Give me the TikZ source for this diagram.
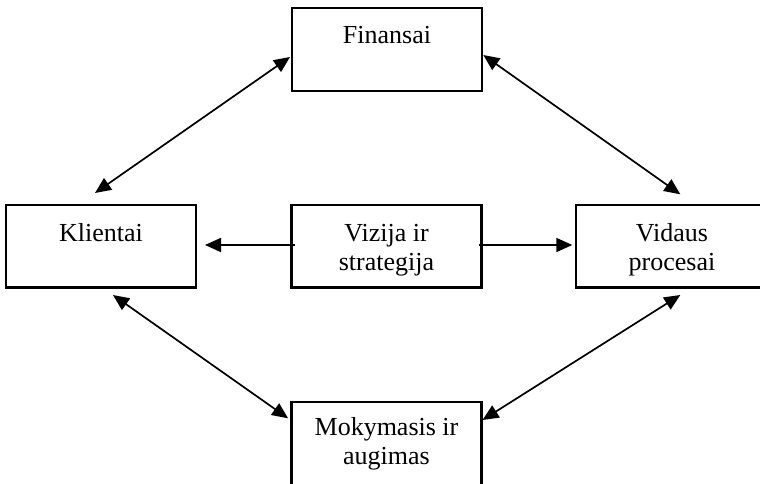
\documentclass[tikz,border=0pt]{standalone}
\usepackage{fontspec}
\setmainfont{Liberation Serif}
\usetikzlibrary{arrows.meta}
\begin{document}
\begin{tikzpicture}[x=1pt,y=-1pt,
  box/.style={draw=black,line width=2.1pt,minimum width=190pt,minimum height=82.5pt,inner sep=0pt,outer sep=0pt},
  lbl/.style={anchor=north,inner sep=0pt,align=center,font=\fontsize{26}{29}\selectfont},
  link/.style={line width=1.7pt,{Triangle[length=16pt,width=14pt]}-{Triangle[length=16pt,width=14pt]}},
  push/.style={line width=1.7pt,-{Triangle[length=16pt,width=14pt]}}]
  % page frame
  \fill[white] (0,0) rectangle (760,483);
  \useasboundingbox (0,0) rectangle (760,483);

  % the five boxes
  \node[box] (fin) at (387,49.6) {};
  \node[box] (kli) at (101,246.25) {};
  \node[box] (viz) at (386.5,246.25) {};
  \node[box,minimum width=192pt] (vid) at (672,246.25) {};
  \node[box,minimum height=90pt] (mok) at (386.5,446.7) {};

  % box captions, set near the top edge
  \node[lbl] (fint) at ([yshift=-15pt]fin.north) {\strut Finansai};
  \node[lbl] (klit) at ([yshift=-16pt]kli.north) {\strut Klientai};
  \node[lbl] (vizt) at ([yshift=-16.3pt]viz.north) {\strut Vizija ir\\strategija};
  \node[lbl] (vidt) at ([yshift=-16.3pt]vid.north) {\strut Vidaus\\procesai};
  \node[lbl] (mokt) at ([yshift=-13.5pt]mok.north) {\strut Mokymasis ir\\augimas};

  % two-way links round the ring
  \draw[link] ([xshift=-2pt,yshift=-7.4pt]fin.west) -- ([xshift=-6pt,yshift=12pt]kli.north);
  \draw[link] ([xshift=1.3pt,yshift=-5.4pt]fin.east) -- ([xshift=8.3pt,yshift=10.7pt]vid.north);
  \draw[link] ([xshift=12pt,yshift=-7.5pt]kli.south) -- ([xshift=-3.4pt,yshift=-16.6pt]mok.north west);
  \draw[link] ([xshift=8.3pt,yshift=-7.5pt]vid.south) -- ([xshift=1pt,yshift=-18.3pt]mok.north east);

  % vision feeds both sides
  \draw[push] ([xshift=3pt,yshift=1.25pt]viz.west) -- ([xshift=9pt,yshift=1.25pt]kli.east);
  \draw[push] ([xshift=-3pt,yshift=1.25pt]viz.east) -- ([xshift=-3.7pt,yshift=1.25pt]vid.west);
\end{tikzpicture}
\end{document}
